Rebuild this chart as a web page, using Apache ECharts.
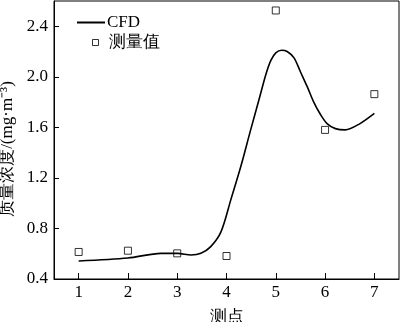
<!DOCTYPE html>
<html><head><meta charset="utf-8">
<script src="https://cdn.jsdelivr.net/npm/echarts@6/dist/echarts.min.js"></script>
<style>html,body{margin:0;padding:0;background:#fff}#c{width:400px;height:322px}</style>
</head><body><div id="c"></div>
<script>
// 测点 positions of measurements
const measX = [1, 2, 3, 4, 5, 6, 7];
const measY = [0.614, 0.624, 0.603, 0.582, 2.525, 1.58, 1.863];
// CFD curve samples
const cfdX = [1.0, 2.0, 2.67, 3.01, 3.28, 3.48, 3.68, 3.89, 4.09, 4.29, 4.49, 4.66, 4.80, 4.90, 5.00, 5.12, 5.23, 5.37, 5.50, 5.64, 5.77, 5.91, 6.04, 6.21, 6.41, 6.71, 7.0];
const cfdY = [0.543, 0.566, 0.603, 0.603, 0.59, 0.603, 0.656, 0.775, 1.03, 1.29, 1.58, 1.82, 2.02, 2.13, 2.19, 2.21, 2.20, 2.15, 2.04, 1.92, 1.80, 1.70, 1.63, 1.59, 1.58, 1.63, 1.71];
const xTicks = [1, 2, 3, 4, 5, 6, 7];
const yTicks = [0.4, 0.8, 1.2, 1.6, 2.0, 2.4];

const serif = 'Liberation Serif';
const chart = echarts.init(document.getElementById('c'), null, {renderer: 'canvas'});
chart.setOption({
  animation: false,
  backgroundColor: '#fff',
  textStyle: {fontFamily: serif},
  grid: {left: 54, right: 1, top: 1, bottom: 43, show: true, borderColor: '#000', borderWidth: 1,
         containLabel: false, outerBoundsMode: 'none'},
  legend: [
    {data: [{name: 'CFD', icon: 'rect'}], left: 72, top: 9, orient: 'vertical', itemWidth: 28, itemHeight: 2,
     textStyle: {fontFamily: serif, fontSize: 17, color: '#000', padding: [0, 0, 0, -3]}},
    {data: [{name: '测量值', icon: 'rect', itemStyle: {color: '#fff', borderColor: '#000', borderWidth: 1}}],
     left: 87, top: 29, itemWidth: 6, itemHeight: 6,
     textStyle: {fontFamily: serif, fontSize: 17, color: '#000', padding: [0, 0, 0, 5]}}
  ],
  xAxis: {
    type: 'value', min: 0.5, max: 7.5,
    name: '测点', nameLocation: 'middle', nameGap: 30,
    nameTextStyle: {fontFamily: serif, fontSize: 17, color: '#000'},
    axisLine: {lineStyle: {color: '#000', width: 1}},
    axisTick: {inside: true, length: 6, lineStyle: {color: '#000'}, customValues: xTicks},
    axisLabel: {fontFamily: serif, fontSize: 17, color: '#000', margin: 5, customValues: xTicks},
    splitLine: {show: false}
  },
  yAxis: {
    type: 'value', min: 0.4, max: 2.6,
    name: '质量浓度/(mg·m⁻³)', nameLocation: 'middle', nameGap: 30, nameRotate: 90,
    nameTextStyle: {fontFamily: serif, fontSize: 17, color: '#000', padding: [0, 18, 0, 0]},
    axisLine: {lineStyle: {color: '#000', width: 1}},
    axisTick: {inside: true, length: 5, lineStyle: {color: '#000'}, customValues: yTicks},
    axisLabel: {fontFamily: serif, fontSize: 17, color: '#000', margin: 6, customValues: yTicks,
      formatter: v => v.toFixed(1)},
    splitLine: {show: false}
  },
  series: [
    {name: 'CFD', type: 'line', smooth: 0.3, showSymbol: false, symbol: 'none',
     lineStyle: {color: '#000', width: 1.6}, itemStyle: {color: '#000'},
     data: cfdX.map((x, i) => [x, cfdY[i]])},
    {name: '测量值', type: 'scatter', symbol: 'rect', symbolSize: 7,
     itemStyle: {color: '#fff', borderColor: '#000', borderWidth: 1},
     data: measX.map((x, i) => [x, measY[i]])}
  ]
});
</script></body></html>
